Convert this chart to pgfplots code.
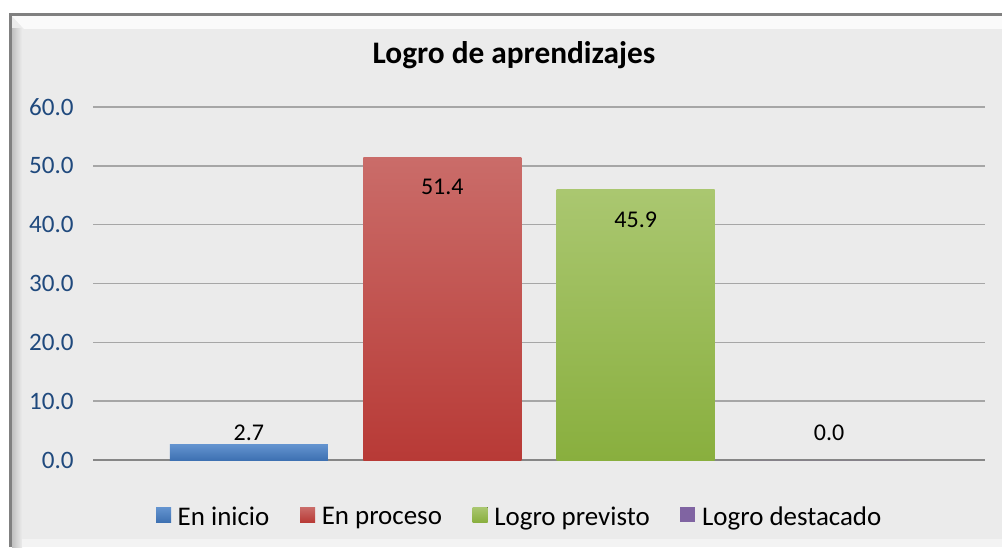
\documentclass[border=0pt]{standalone}
\usepackage{fontspec}
\setmainfont{Carlito}
\usepackage{pgfplots}
\pgfplotsset{compat=1.18}
\definecolor{bg}{RGB}{235,235,235}
\definecolor{tickblue}{RGB}{31,73,125}
\definecolor{gridc}{RGB}{166,166,166}
\definecolor{zeroc}{RGB}{134,134,134}
\definecolor{bluetop}{RGB}{100,148,208}
\definecolor{bluebot}{RGB}{62,113,178}
\definecolor{redtop}{RGB}{202,108,105}
\definecolor{redbot}{RGB}{184,58,54}
\definecolor{greentop}{RGB}{170,199,112}
\definecolor{greenbot}{RGB}{137,175,62}
\definecolor{purp}{RGB}{128,100,162}
\begin{document}
\begin{tikzpicture}[x=0.75pt,y=0.75pt]
\path[use as bounding box] (0,0) rectangle (1002,547);
\fill[white] (0,0) rectangle (1002,547);
\fill[bg] (10,0) rectangle (1002,533);
\fill[white!75!bg] (12,531) -- (1002,531) -- (1002,518) -- (24,518) -- cycle;
\shade[left color=black!18!bg, right color=bg] (12,0) rectangle (22,518);
\fill[white!40!bg] (22,0) rectangle (1002,8);
\draw[black!50, line width=1.8pt] (10.5,0) -- (10.5,532.5) -- (1002,532.5);
\node[font=\fontsize{23.5}{28}\selectfont\bfseries] at (514,492) {Logro de aprendizajes};
\begin{axis}[
  at={(69.75pt,65.25pt)}, anchor=south west,
  scale only axis, width=669pt, height=264.75pt,
  xmin=0.194, xmax=4.806, ymin=0, ymax=60,
  ybar, bar width=0.817, bar shift=0pt,
  xtick=\empty,
  ytick={0,10,20,30,40,50,60},
  axis line style={draw=none},
  major tick style={draw=none},
  ymajorgrids,
  grid style={gridc, line width=1.2pt},
  /pgf/number format/assume math mode=true,
  yticklabel style={/pgf/number format/.cd, fixed, fixed zerofill, precision=1, /tikz/.cd,
    font=\fontsize{18.8}{22}\selectfont, text=tickblue, xshift=-11pt},
  nodes near coords,
  nodes near coords style={/pgf/number format/.cd, fixed, fixed zerofill, precision=1, /tikz/.cd,
    font=\fontsize{18}{21}\selectfont, text=black, anchor=center},
  legend columns=4,
  legend style={draw=none, fill=none, at={(0.478,-0.161)}, anchor=center,
    font=\fontsize{20.2}{24}\selectfont,
    /tikz/every even column/.append style={column sep=22pt},
    /tikz/every odd column/.append style={column sep=4pt},
    nodes={inner xsep=1pt}},
  legend image code/.code={\fill[#1] (0pt,-4pt) rectangle (11.25pt,7.25pt);},
]
\draw[zeroc, line width=1.2pt] (rel axis cs:0,0) -- (rel axis cs:1,0);
\addplot[draw=none, top color=bluetop, bottom color=bluebot,
  every node near coord/.append style={yshift=8.6pt}] coordinates {(1,2.7)};
\addplot[draw=none, top color=redtop, bottom color=redbot,
  every node near coord/.append style={yshift=-21.8pt}] coordinates {(2,51.4)};
\addplot[draw=none, top color=greentop, bottom color=greenbot,
  every node near coord/.append style={yshift=-22.5pt}] coordinates {(3,45.9)};
\addplot[draw=none, fill=purp,
  every node near coord/.append style={yshift=20.6pt}] coordinates {(4,0.0)};
\legend{En inicio, En proceso, Logro previsto, Logro destacado}
\end{axis}
\end{tikzpicture}
\end{document}
